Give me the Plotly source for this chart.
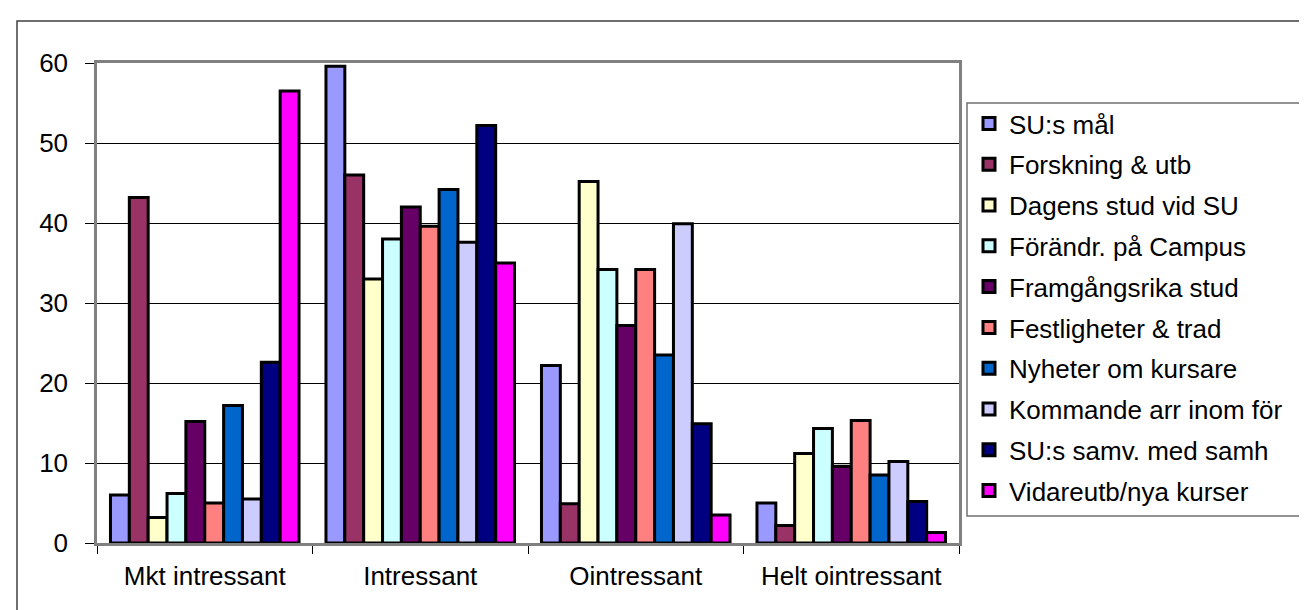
import plotly.graph_objects as go

categories = ["Mkt intressant", "Intressant", "Ointressant", "Helt ointressant"]

series_names = [
    "SU:s mål", "Forskning & utb", "Dagens stud vid SU", "Förändr. på Campus",
    "Framgångsrika stud", "Festligheter & trad", "Nyheter om kursare",
    "Kommande arr inom för", "SU:s samv. med samh", "Vidareutb/nya kurser",
]
su_mal = [6.0, 59.6, 22.2, 5.0]
forskning = [43.2, 46.0, 4.9, 2.2]
dagens = [3.2, 33.0, 45.2, 11.2]
forandr = [6.2, 38.0, 34.2, 14.3]
framgang = [15.2, 42.0, 27.2, 9.6]
fest = [5.0, 39.6, 34.2, 15.3]
nyheter = [17.2, 44.2, 23.5, 8.5]
kommande = [5.5, 37.6, 39.9, 10.2]
samv = [22.6, 52.2, 14.9, 5.2]
vidare = [56.5, 35.0, 3.5, 1.3]

colors = ["#9999FF", "#993366", "#FFFFCC", "#CCFFFF", "#660066",
          "#FF8080", "#0066CC", "#CCCCFF", "#000080", "#FF00FF"]

values = [su_mal, forskning, dagens, forandr, framgang, fest, nyheter,
          kommande, samv, vidare]

FONT = "Liberation Sans, Arial, sans-serif"

fig = go.Figure()
for i, (name, vals, col) in enumerate(zip(series_names, values, colors)):
    fig.add_trace(go.Bar(
        x=categories, y=vals, name=name, legendgroup=f"g{i}",
        marker=dict(color=col, line=dict(color="black", width=3)),
    ))

# plot area: x 89..951, y 55..535
L, R, T, B = 89, 951, 55, 535
W, H = 1307, 610
pw, ph = R - L, B - T

def px_x(x):
    return (x - L) / pw

def px_y(y):
    return (B - y) / ph

fig.update_layout(
    width=W, height=H,
    margin=dict(l=L, r=W - R, t=T, b=H - B, autoexpand=False),
    paper_bgcolor="white", plot_bgcolor="white",
    barmode="group", bargap=0.125, bargroupgap=0,
    font=dict(family=FONT, size=26, color="black"),
    showlegend=True,
    legend=dict(
        x=px_x(961), y=px_y(92), xanchor="left", yanchor="top",
        bgcolor="rgba(0,0,0,0)", borderwidth=0,
        font=dict(family=FONT, size=26, color="black"),
        tracegroupgap=4, traceorder="grouped",
    ),
    xaxis=dict(
        type="category", tickson="boundaries", ticks="outside", ticklen=8,
        tickcolor="black", tickwidth=1, showline=True, linecolor="#808080",
        linewidth=2.5, mirror=True, showgrid=False, ticklabelstandoff=8,
        tickfont=dict(family=FONT, size=26),
    ),
    yaxis=dict(
        range=[0, 60], dtick=10, ticks="outside", ticklen=9, tickcolor="black",
        tickwidth=1, showline=True, linecolor="#808080", linewidth=2.5,
        mirror=True, showgrid=True, gridcolor="black", gridwidth=1,
        zeroline=False, ticklabelstandoff=12,
        tickfont=dict(family=FONT, size=26),
    ),
    shapes=[
        dict(
            type="rect", xref="paper", yref="paper",
            x0=px_x(9), x1=px_x(1330), y0=px_y(640), y1=px_y(13),
            line=dict(color="#404040", width=1.5), fillcolor="rgba(0,0,0,0)",
            layer="below",
        ),
        dict(
            type="rect", xref="paper", yref="paper",
            x0=px_x(959), x1=px_x(1306), y0=px_y(508), y1=px_y(95),
            line=dict(color="#707070", width=1.5), fillcolor="white",
            layer="below",
        ),
    ],
)

fig.write_html("out.html")
